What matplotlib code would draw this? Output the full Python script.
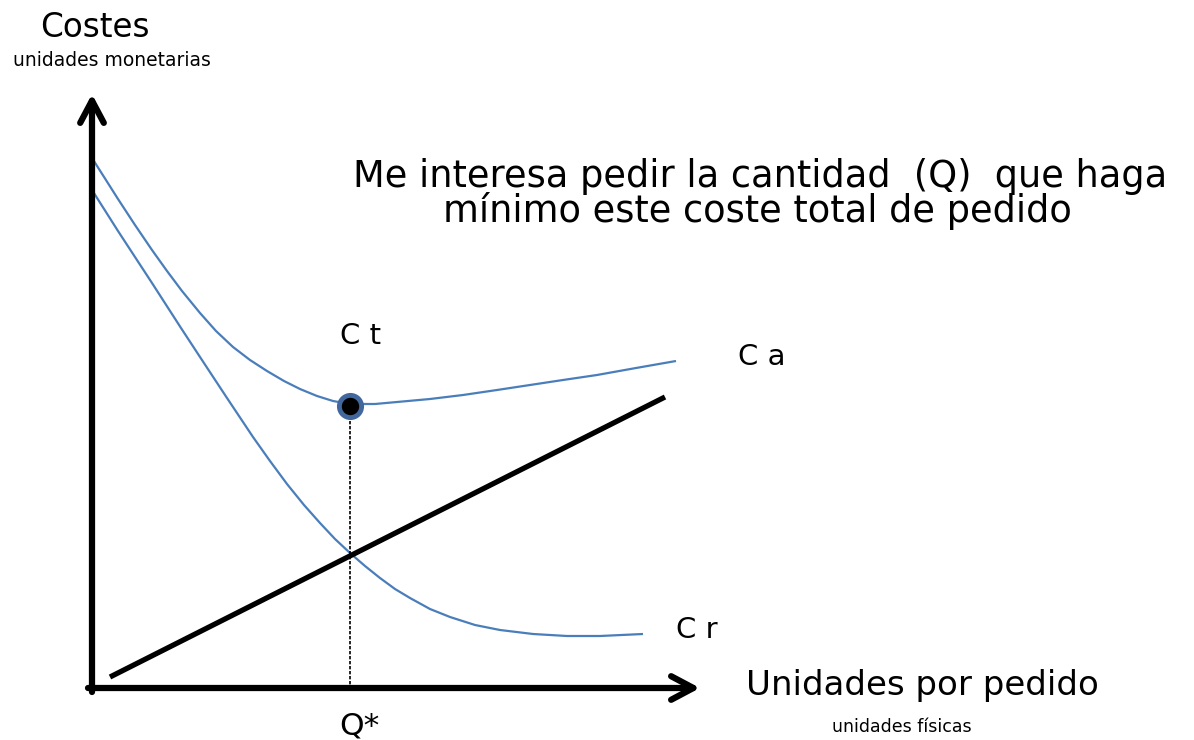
import matplotlib
matplotlib.use("Agg")
import matplotlib.pyplot as plt

# Curvas (coordenadas en píxeles, y hacia abajo)
ca_x = [92, 118, 135, 152, 167, 182, 200, 216, 233, 250, 267, 284, 300, 317, 333, 350,
        375, 397, 430, 463, 497, 530, 563, 597, 636, 676]
ca_y = [158, 199, 225, 250, 271, 291, 313, 331, 347, 360, 371, 381, 389, 396, 401, 404,
        404, 402, 399, 395, 390, 385, 380, 375, 368, 361]

cr_x = [92, 118, 152, 181, 200, 227, 253, 270, 287, 304, 320, 335, 350, 365, 380, 395,
        410, 430, 450, 475, 500, 533, 567, 600, 643]
cr_y = [190, 231, 283, 328, 357, 398, 437, 461, 484, 505, 523, 539, 553, 566, 578, 589,
        598, 609, 617, 625, 630, 634, 636, 636, 634]

# recta de coste (negra)
cl_x = [110, 665]
cl_y = [677, 397]

# óptimo
q_opt = 350
ct_min = 406
eje_y0 = 688

BLUE = "#4a7ebb"

fig = plt.figure(figsize=(11.94, 7.40), dpi=100)
ax = fig.add_axes([0, 0, 1, 1])
ax.set_xlim(0, 1194)
ax.set_ylim(740, 0)
ax.axis("off")

# ejes con flecha
arrow = dict(arrowstyle="->,head_length=1.6,head_width=0.85", lw=4.5, color="black",
             shrinkA=0, shrinkB=0, capstyle="round", joinstyle="round")
ax.annotate("", xy=(92, 94), xytext=(92, 692), arrowprops=arrow)
ax.annotate("", xy=(700, 688), xytext=(88, 688), arrowprops=arrow)

# curvas
ax.plot(ca_x, ca_y, color=BLUE, lw=1.6, solid_capstyle="butt", solid_joinstyle="round")
ax.plot(cr_x, cr_y, color=BLUE, lw=1.6, solid_capstyle="butt", solid_joinstyle="round")
ax.plot(cl_x, cl_y, color="black", lw=3.8, solid_capstyle="butt")

# línea punteada y punto mínimo
ax.plot([q_opt, q_opt], [ct_min, eje_y0], color="black", lw=1.2, linestyle=(0, (2, 1)))
ax.plot([q_opt], [ct_min], marker="o", markersize=16, markerfacecolor="black",
        markeredgecolor="#41679c", markeredgewidth=3.5, zorder=5)

# textos
ax.text(95, 37, "Costes", fontsize=23.5, ha="center", va="baseline")
ax.text(112, 60, "unidades monetarias", fontsize=13.5, ha="center", va="center")
ax.text(760, 187, "Me interesa pedir la cantidad  (Q)  que haga",
        fontsize=26.5, ha="center", va="baseline")
ax.text(757, 222, "mínimo este coste total de pedido",
        fontsize=26.5, ha="center", va="baseline")
ax.text(361, 336, "C t", fontsize=21, ha="center", va="center")
ax.text(762, 357, "C a", fontsize=21, ha="center", va="center")
ax.text(697, 630, "C r", fontsize=21, ha="center", va="center")
ax.text(922, 685, "Unidades por pedido", fontsize=24.5, ha="center", va="center")
ax.text(902, 727, "unidades físicas", fontsize=12.5, ha="center", va="center")
ax.text(359, 735, "Q*", fontsize=22.5, ha="center", va="baseline")

fig.savefig("out.png", dpi=100)
